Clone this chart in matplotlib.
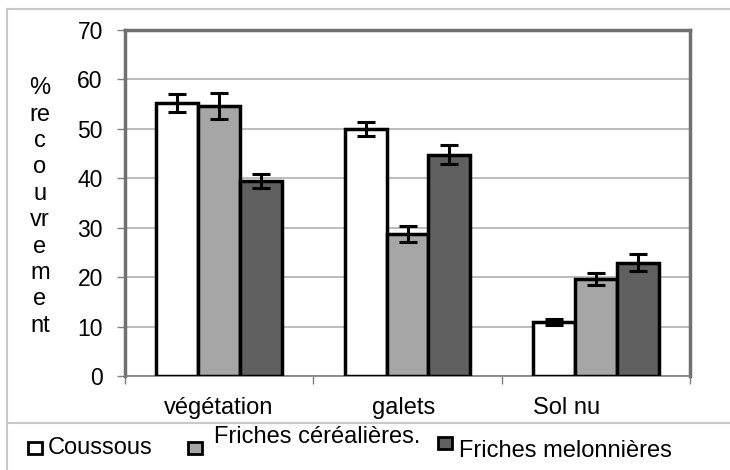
import matplotlib
matplotlib.use("Agg")
import matplotlib.pyplot as plt
from matplotlib.patches import Rectangle
from matplotlib.lines import Line2D
import numpy as np

plt.rcParams['font.family'] = ['Liberation Sans', 'DejaVu Sans']

categories = ["végétation", "galets", "Sol nu"]
series = ["Coussous", "Friches céréalières.", "Friches melonnières"]
coussous = [55.2, 50.0, 10.9]
cerealieres = [54.6, 28.8, 19.7]
melonnieres = [39.4, 44.8, 22.9]
err_coussous = [1.8, 1.4, 0.6]
err_cerealieres = [2.7, 1.6, 1.2]
err_melonnieres = [1.4, 1.9, 1.7]
yticks = [0, 10, 20, 30, 40, 50, 60, 70]
ylabel = "%\nre\nc\no\nu\nvr\ne\nm\ne\nnt"

colors = ["#ffffff", "#a6a6a6", "#606060"]
W, H = 730, 470
FS = 17
fig = plt.figure(figsize=(W / 100, H / 100), dpi=100)

def fx(px):
    return px / W

def fy(py):
    return 1 - py / H

left, right, top, bottom = 125, 690, 30, 376
ax = fig.add_axes([fx(left), fy(bottom), fx(right - left), (bottom - top) / H])

vals = [coussous, cerealieres, melonnieres]
errs = [err_coussous, err_cerealieres, err_melonnieres]
x = np.arange(len(categories))
bw = 0.222
for i, (v, e) in enumerate(zip(vals, errs)):
    pos = x + (i - 1) * bw
    ax.bar(pos, v, width=bw, color=colors[i], edgecolor="black", linewidth=2.5, zorder=3)
    ax.errorbar(pos, v, yerr=e, fmt="none", ecolor="black", elinewidth=2.2,
                capsize=6.5, capthick=2.2, zorder=4)

ax.set_xlim(-0.5, 2.5)
ax.set_ylim(0, 70)
ax.set_yticks(yticks)
ax.set_yticklabels([str(t) for t in yticks], fontsize=16.5)
ax.yaxis.grid(True, color="#b0b0b0", linewidth=1.2, zorder=0)
ax.set_axisbelow(True)
ax.set_xticks([-0.5, 0.5, 1.5, 2.5])
ax.set_xticklabels([])
ax.tick_params(axis="x", length=6, color="#808080", width=1)
ax.tick_params(axis="y", length=6, color="#808080", width=1, pad=10)
for s in ["top", "right", "left"]:
    ax.spines[s].set_color("#707070")
    ax.spines[s].set_linewidth(2.5)
ax.spines["bottom"].set_color("#808080")
ax.spines["bottom"].set_linewidth(1.2)

# category labels
cat_px = [219, 404, 567]
for c, px in zip(categories, cat_px):
    fig.text(fx(px), fy(408), c, fontsize=FS, ha="center", va="center")

# y label
fig.text(fx(40), fy(207), ylabel, fontsize=FS, ha="center", va="center", linespacing=1.26)

# frame and separator
fig.add_artist(Line2D([fx(7), fx(7)], [fy(9), fy(470)], color="#c8c8c8", lw=1.5))
fig.add_artist(Line2D([fx(7), fx(730)], [fy(9), fy(9)], color="#c8c8c8", lw=1.5))
fig.add_artist(Line2D([fx(7), fx(730)], [fy(423), fy(423)], color="#c8c8c8", lw=1.5))

# legend
leg = [(28, 442, 448, 48), (188, 442, 437, 214), (438, 437, 451, 459)]
for i, (sx, sy, ty, tx) in enumerate(leg):
    fig.add_artist(Rectangle((fx(sx), fy(sy + 12)), 14 / W, 12 / H, facecolor=colors[i],
                             edgecolor="black", linewidth=2, transform=fig.transFigure))
    fig.text(fx(tx), fy(ty), series[i], fontsize=FS, ha="left", va="center")

fig.savefig("out.png", dpi=100)
